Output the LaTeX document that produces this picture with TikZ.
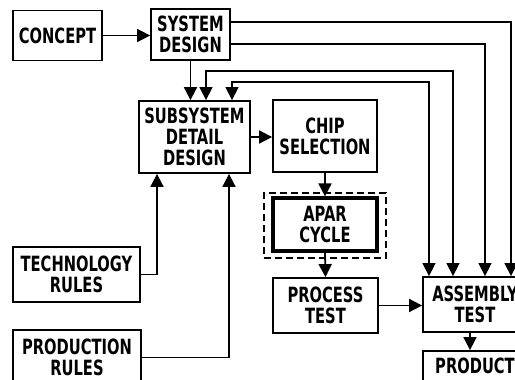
\documentclass[tikz,border=0pt]{standalone}
\usepackage{fontspec}
\newfontfamily\lblfont{DejaVu Sans}[FakeStretch=0.7]
\usetikzlibrary{arrows.meta}
\tikzset{
  blk/.style={draw, line width=1.8pt, rectangle, align=center, inner sep=0pt,
    font=\lblfont\bfseries\fontsize{21}{21}\selectfont},
  conn/.style={line width=1.8pt, -{Triangle[length=13pt,width=13pt]}},
  feed/.style={line width=1.3pt, -{Triangle[length=13pt,width=13pt]}},
  both/.style={line width=1.3pt, {Triangle[length=13pt,width=13pt]}-{Triangle[length=13pt,width=13pt]}},
  ring/.style={draw, line width=1.8pt, dash pattern=on 7pt off 4pt}
}
\begin{document}
\begin{tikzpicture}[x=1pt,y=-1pt]
\clip (0,0) rectangle (515,380);
\fill[white] (0,0) rectangle (515,380);

% blocks
\node[blk, minimum width=89pt, minimum height=50pt] (concept) at (57.5,35.5) {CONCEPT};
\node[blk, minimum width=79pt, minimum height=51pt] (system) at (190.5,34.5) {SYSTEM\\DESIGN};
\node[blk, minimum width=111pt, minimum height=72pt] (subsys) at (194.5,137) {SUBSYSTEM\\DETAIL\\DESIGN};
\node[blk, minimum width=104pt, minimum height=72pt] (chip) at (325,136) {CHIP\\SELECTION};
\node[blk, line width=3.2pt, minimum width=104pt, minimum height=53pt] (apar) at (325,224.5) {APAR\\CYCLE};
\node[ring, minimum width=122pt, minimum height=65pt] (aparring) at (325,225.5) {};
\node[blk, minimum width=105pt, minimum height=55pt] (process) at (325.5,305.5) {PROCESS\\TEST};
\node[blk, minimum width=104pt, minimum height=55pt] (assembly) at (475,304.5) {ASSEMBLY\\TEST};
\node[blk, minimum width=104pt, minimum height=30pt] (product) at (475,366) {PRODUCT};
\node[blk, minimum width=127pt, minimum height=55pt] (tech) at (76.5,274.5) {TECHNOLOGY\\RULES};
\node[blk, minimum width=128pt, minimum height=55pt] (prodrules) at (77,357.5) {PRODUCTION\\RULES};

% main flow
\draw[conn] (concept.east) -- (concept.east -| system.west);
\draw[conn] (system.south) -- (system.south |- subsys.north);
\draw[conn] (subsys.east) -- (subsys.east -| chip.west);
\draw[conn] (chip.south) -- (apar.north);
\draw[conn] (apar.south) -- (process.north);
\draw[conn] (process.east) -- (process.east -| assembly.west);
\draw[conn] (470,0 |- assembly.south) -- (470,0 |- product.north);

% rules feeding the detail design
\draw[conn] (tech.east) -| (157,0 |- subsys.south);
\draw[conn] (prodrules.east) -| (229,0 |- subsys.south);

% system design straight to assembly test
\draw[feed] (system.east |- 0,22) -| (511,0 |- assembly.north);
\draw[feed] (system.east |- 0,44) -| (485,0 |- assembly.north);

% shared links between detail design and assembly test
\draw[both] (206,0 |- subsys.north) |- (453,71) -- (453,0 |- assembly.north);
\draw[both] (232,0 |- subsys.north) |- (429,82) -- (429,0 |- assembly.north);
\end{tikzpicture}
\end{document}
